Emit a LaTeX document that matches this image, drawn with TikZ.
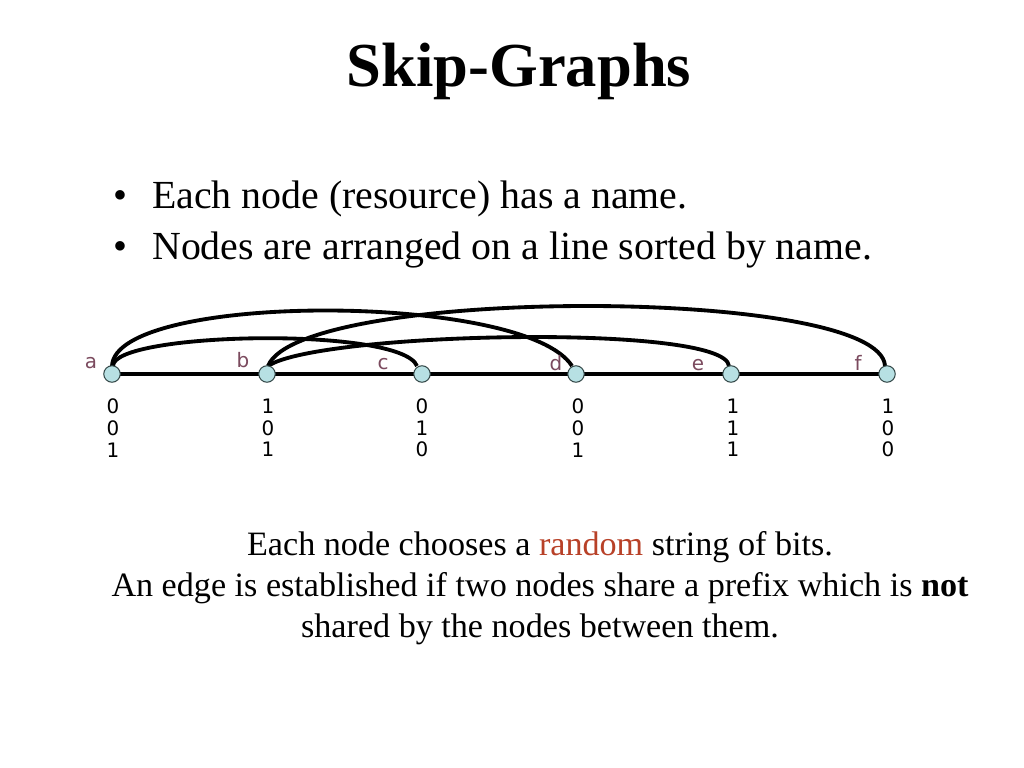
\documentclass[tikz,border=0pt]{standalone}
\usepackage{fontspec}
\setmainfont{Liberation Serif}
\newfontfamily\lblfont{DejaVu Sans}
\definecolor{nodefill}{RGB}{183,224,227}
\definecolor{nodeline}{RGB}{50,70,70}
\definecolor{lblcol}{RGB}{123,74,94}
\definecolor{randcol}{RGB}{184,65,40}
\tikzset{
  vtx/.style={circle, fill=nodefill, draw=nodeline, line width=0.7pt, minimum size=11.6pt, inner sep=0pt},
  edgeline/.style={line width=2.5pt, black},
  arcline/.style={line width=2.7pt, black},
  lbl/.style={font=\lblfont\fontsize{14}{16}\selectfont, text=lblcol, anchor=base, inner sep=0pt},
  bits/.style={font=\lblfont\fontsize{14}{15.2}\selectfont, align=center, inner sep=0pt},
  bodytext/.style={font=\fontsize{28}{33.6}\selectfont, anchor=base west, inner sep=0pt},
}
\begin{document}
\begin{tikzpicture}[x=0.703125pt, y=-0.703125pt]
\useasboundingbox (0,0) rectangle (1024,768);
\fill[white] (0,0) rectangle (1024,768);
% title
\node[font=\bfseries\fontsize{44}{52}\selectfont, anchor=base, inner sep=0pt] (title) at (519,87) {Skip-Graphs};
% bullets
\node[bodytext] (b1) at (113,209) {•};
\node[bodytext] (t1) at (152,209) {Each node (resource) has a name.};
\node[bodytext] (b2) at (113,260) {•};
\node[bodytext] (t2) at (152,260) {Nodes are arranged on a line sorted by name.};
% vertices
\coordinate (pa) at (112,374);
\coordinate (pf) at (887,374);
\draw[edgeline] (pa) -- (pf);
\draw[arcline] (112,366) .. controls +(3,-74) and +(-47,-74) .. (572,366);
\draw[arcline] (113,366) .. controls +(0,-34) and +(-16,-40) .. (417,366);
\draw[arcline] (268,366) .. controls +(32,-80) and +(-4,-80) .. (885,366);
\draw[arcline] (268,366) .. controls +(50,-34) and +(-4,-43) .. (729,366);
\node[vtx] (a) at (112,374) {};
\node[vtx] (b) at (267,374) {};
\node[vtx] (c) at (422,374) {};
\node[vtx] (d) at (576,374) {};
\node[vtx] (e) at (731,374) {};
\node[vtx] (f) at (887,374) {};
% labels
\node[lbl] (la) at (91,368) {a};
\node[lbl] (lb) at (243,367) {b};
\node[lbl] (lc) at (383,369) {c};
\node[lbl] (ld) at (556,370) {d};
\node[lbl] (le) at (698,370) {e};
\node[lbl] (lf) at (858,370) {f};
% bit strings
\node[bits] (sa) at (113,428) {0\\0\\1};
\node[bits] (sb) at (268,428) {1\\0\\1};
\node[bits] (sc) at (422,428) {0\\1\\0};
\node[bits] (sd) at (578,428) {0\\0\\1};
\node[bits] (se) at (733,428) {1\\1\\1};
\node[bits] (sf) at (888,428) {1\\0\\0};
% bottom text
\node[font=\fontsize{24}{28.8}\selectfont, align=center, inner sep=0pt] (bottom) at (540,588)
  {Each node chooses a \textcolor{randcol}{random} string of bits.\\
   An edge is established if two nodes share a prefix which is \textbf{not}\\
   shared by the nodes between them.};
\end{tikzpicture}
\end{document}
